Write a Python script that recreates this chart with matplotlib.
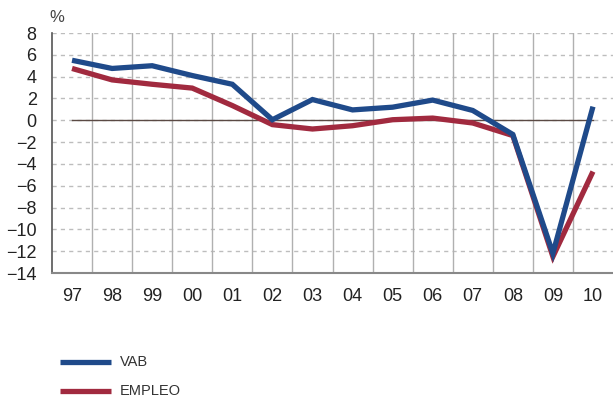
import matplotlib
matplotlib.use("Agg")
import matplotlib.pyplot as plt
from matplotlib.lines import Line2D
import numpy as np

plt.rcParams['font.family'] = ['Liberation Sans', 'DejaVu Sans']

years = ['97', '98', '99', '00', '01', '02', '03', '04', '05', '06', '07', '08', '09', '10']
vab = [5.5, 4.75, 5.0, 4.1, 3.3, 0.05, 1.9, 0.95, 1.2, 1.85, 0.9, -1.3, -12.2, 1.25]
empleo = [4.75, 3.7, 3.3, 2.95, 1.35, -0.4, -0.8, -0.5, 0.05, 0.2, -0.25, -1.4, -12.5, -4.7]

blue = '#1f4a8a'
red = '#a12a3f'

W, H = 613, 399
fig = plt.figure(figsize=(W / 100, H / 100), dpi=100)
ax = fig.add_axes([52/W, 126/H, 561/W, 240/H])

x = np.arange(len(years))

# grid
for yv in range(-12, 9, 2):
    ax.axhline(yv, color='#bdbdbd', lw=1, ls=(0, (3, 3)), zorder=1)
for xv in x[:-1] + 0.5:
    ax.axvline(xv, color='#b0b0b0', lw=1, zorder=1)
ax.plot([0, len(years) - 1], [0, 0], color='#5b4a44', lw=1, zorder=2)

l1, = ax.plot(x, vab, color=blue, lw=3.8, solid_joinstyle='miter', solid_capstyle='butt',
              zorder=4, label='VAB')
l2, = ax.plot(x, empleo, color=red, lw=3.8, solid_joinstyle='miter', solid_capstyle='butt',
              zorder=3, label='EMPLEO')

ax.set_xlim(-0.5, len(years) - 0.5)
ax.set_ylim(-14, 8)
ax.set_yticks(range(-14, 9, 2))
ax.set_xticks(x)
ax.set_xticklabels(years)

for s in ['top', 'right']:
    ax.spines[s].set_visible(False)
ax.spines['left'].set_color('#555555')
ax.spines['left'].set_linewidth(1.2)
ax.spines['bottom'].set_color('#888888')
ax.spines['bottom'].set_linewidth(1.5)

ax.tick_params(axis='y', length=0, pad=11, labelsize=13, labelcolor='#222222')
ax.tick_params(axis='x', length=0, pad=11, labelsize=13, labelcolor='#222222')

fig.text(57/W, 1 - 17/H, '%', fontsize=12, color='#444444', ha='center', va='center')

# legend below the chart, drawn by hand
for i, ln in enumerate([l1, l2]):
    yy = 1 - (362 + 29 * i) / H
    fig.add_artist(Line2D([60/W, 111/W], [yy, yy], color=ln.get_color(), lw=3.8,
                          solid_capstyle='butt'))
    fig.text(120/W, yy, ln.get_label(), fontsize=10.5, color='#333333', va='center',
             family=['Liberation Sans Narrow', 'Liberation Sans'])

fig.savefig('out.png', dpi=100)
